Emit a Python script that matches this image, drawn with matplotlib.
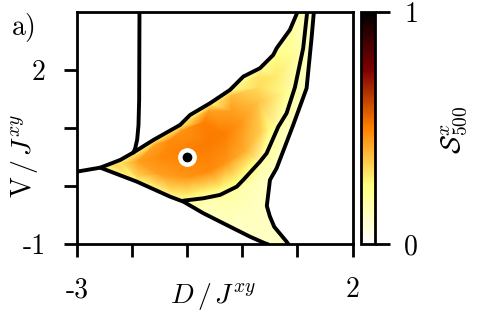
import matplotlib
matplotlib.use('Agg')
import matplotlib.pyplot as plt
import matplotlib.tri as mtri
from matplotlib.patches import Polygon
import numpy as np

plt.rcParams['mathtext.fontset'] = 'cm'
plt.rcParams['font.family'] = ['cmr10', 'DejaVu Serif']
plt.rcParams['axes.unicode_minus'] = False

# phase boundaries, (D, V) pairs
left_x = [-1.866, -1.872, -1.884, -1.908, -1.944, -1.975]
left_y = [3.0, 1.48, 1.05, 0.80, 0.65, 0.58]

upper_x = [-3.0, -2.578, -2.214, -1.975, -1.612, -1.129, -0.947, -0.585, -0.223, 0.018, 0.321, 0.562, 0.623, 0.864, 1.004]
upper_y = [0.25, 0.318, 0.451, 0.58, 0.795, 1.053, 1.225, 1.427, 1.656, 1.885, 2.029, 2.258, 2.373, 2.689, 3.0]

lower_x = [-2.578, -1.913, -1.310, -1.069, -0.707, -0.223, 0.139, 0.411, 0.466]
lower_y = [0.318, 0.077, -0.181, -0.267, -0.466, -0.697, -0.869, -0.983, -1.0]

inner_x = [-1.069, -0.707, -0.404, -0.101, 0.018, 0.321, 0.442, 0.652, 0.804, 0.955, 1.105, 1.178]
inner_y = [-0.25, -0.209, -0.151, -0.009, 0.107, 0.422, 0.566, 1.02, 1.255, 1.70, 2.373, 3.0]

right_x = [1.299, 1.257, 1.167, 0.924, 0.623, 0.502, 0.445, 0.50, 0.58, 0.804, 0.837]
right_y = [3.0, 2.546, 1.685, 1.053, 0.308, 0.107, -0.34, -0.52, -0.70, -0.955, -1.0]

# S^x_500 sampled inside the coloured region: edge of the triangle
edge_x = [-2.578, -2.214, -1.612, -1.129, -0.585, -0.223, 0.321, 0.623, 1.004,
          -1.913, -1.310, -1.069, -0.707, -0.404, -0.101, 0.321, 0.652, 0.955, 1.105, 1.178]
edge_y = [0.318, 0.451, 0.795, 1.053, 1.427, 1.656, 2.029, 2.373, 3.0,
          0.077, -0.181, -0.267, -0.209, -0.151, -0.009, 0.422, 1.02, 1.70, 2.373, 3.0]
edge_v = [0.18, 0.24, 0.26, 0.26, 0.24, 0.22, 0.19, 0.16, 0.13,
          0.24, 0.22, 0.19, 0.18, 0.18, 0.18, 0.18, 0.17, 0.15, 0.14, 0.13]

# lower-right lobe and right band (pale)
lobe_x = [-0.707, -0.223, 0.139, 0.466, 0.837, 0.58, 0.445, 0.502, 0.623, 0.924, 1.167, 1.299, 0.1, 0.3]
lobe_y = [-0.466, -0.697, -0.869, -1.0, -1.0, -0.70, -0.34, 0.107, 0.308, 1.053, 1.685, 3.0, -0.4, 0.1]
lobe_v = [0.12, 0.12, 0.12, 0.12, 0.12, 0.12, 0.12, 0.12, 0.12, 0.12, 0.12, 0.12, 0.13, 0.13]

# inside the triangle
core_x = [-2.3, -1.9, -1.5, -1.0, -0.6, -0.3, 0.0, 0.3, 0.6, 0.85,
          -2.2, -1.6, -1.1, -0.6, -0.2, 0.3, 0.6, 0.9,
          -1.9, -1.3, -1.0, -0.7, -0.4, -0.1, 0.2, 0.5, 0.8, 1.0,
          -1.5, -1.0, -0.6, -0.3, 0.05, 0.35, -1.3, -0.7, -0.2, 0.3]
core_y = [0.36, 0.43, 0.5, 0.62, 0.75, 0.9, 1.1, 1.45, 1.9, 2.4,
          0.40, 0.70, 0.95, 1.30, 1.55, 1.90, 2.25, 2.8,
          0.17, -0.07, -0.14, -0.10, -0.05, 0.10, 0.42, 0.95, 1.6, 2.3,
          0.2, 0.15, 0.25, 0.4, 0.6, 0.95, 0.8, 1.1, 1.3, 1.7]
core_v = [0.34, 0.44, 0.48, 0.5, 0.51, 0.5, 0.45, 0.37, 0.29, 0.22,
          0.31, 0.43, 0.46, 0.44, 0.39, 0.3, 0.24, 0.18,
          0.34, 0.32, 0.29, 0.27, 0.26, 0.26, 0.26, 0.24, 0.21, 0.18,
          0.44, 0.46, 0.48, 0.46, 0.41, 0.34, 0.48, 0.5, 0.44, 0.32]

point_x = [-1.0]
point_y = [0.5]

fig = plt.figure(figsize=(5, 3.36), dpi=100)
ax = fig.add_axes([0.154, 0.273, 0.551, 0.692])
cax = fig.add_axes([0.721, 0.273, 0.029, 0.692])

sx = edge_x + lobe_x + core_x
sy = edge_y + lobe_y + core_y
sv = edge_v + lobe_v + core_v
tri = mtri.Triangulation(sx, sy)
tpc = ax.tripcolor(tri, sv, shading='gouraud', cmap='afmhot_r', vmin=0, vmax=1, zorder=1)

# clip the colour field to the region between the boundaries
region = list(zip(upper_x[1:], upper_y[1:])) + list(zip(right_x, right_y)) + list(zip(lower_x[::-1], lower_y[::-1]))
clip = Polygon(region, closed=True, transform=ax.transData, facecolor='none', edgecolor='none')
ax.add_patch(clip)
tpc.set_clip_path(clip)

for xs, ys in [(left_x, left_y), (upper_x, upper_y), (lower_x, lower_y), (inner_x, inner_y), (right_x, right_y)]:
    ax.plot(xs, ys, color='black', lw=2.8, solid_capstyle='round', solid_joinstyle='round', zorder=3)

ax.plot(point_x, point_y, 'o', ms=12.5, mfc='white', mec='white', zorder=4)
ax.plot(point_x, point_y, 'o', ms=6, mfc='black', mec='black', zorder=5)

ax.set_xlim(-3, 2)
ax.set_ylim(-1, 3)
ax.set_xticks([-3, -2, -1, 0, 1, 2])
ax.set_xticklabels(['-3', '', '', '', '', '2'])
ax.set_yticks([-1, 0, 1, 2])
ax.set_yticklabels(['-1', '', '', '2'])
ax.tick_params(direction='out', length=9.5, width=2, labelsize=20)
ax.tick_params(axis='x', pad=14)
ax.tick_params(axis='y', pad=13)
for s in ax.spines.values():
    s.set_linewidth(2)

ax.set_xlabel(r'$D\,/\,J^{xy}$', fontsize=20)
ax.xaxis.set_label_coords(0.495, -0.16)
ax.set_ylabel(r'$\mathrm{V}\,/\,J^{xy}$', fontsize=20)
ax.yaxis.set_label_coords(-0.135, 0.38)

cb = fig.colorbar(tpc, cax=cax)
cb.set_ticks([0, 1])
cb.set_ticklabels(['0', '1'])
cb.outline.set_linewidth(2)
cax.tick_params(direction='out', length=11, width=2, labelsize=20, pad=10)
fig.text(0.91, 1 - 130 / 336, r'$\mathcal{S}^{x}_{500}$', rotation=90, ha='center', va='center', fontsize=20)

fig.text(0.024, 0.96, 'a)', fontsize=20, va='top', ha='left')

plt.savefig('out.png', dpi=100)
